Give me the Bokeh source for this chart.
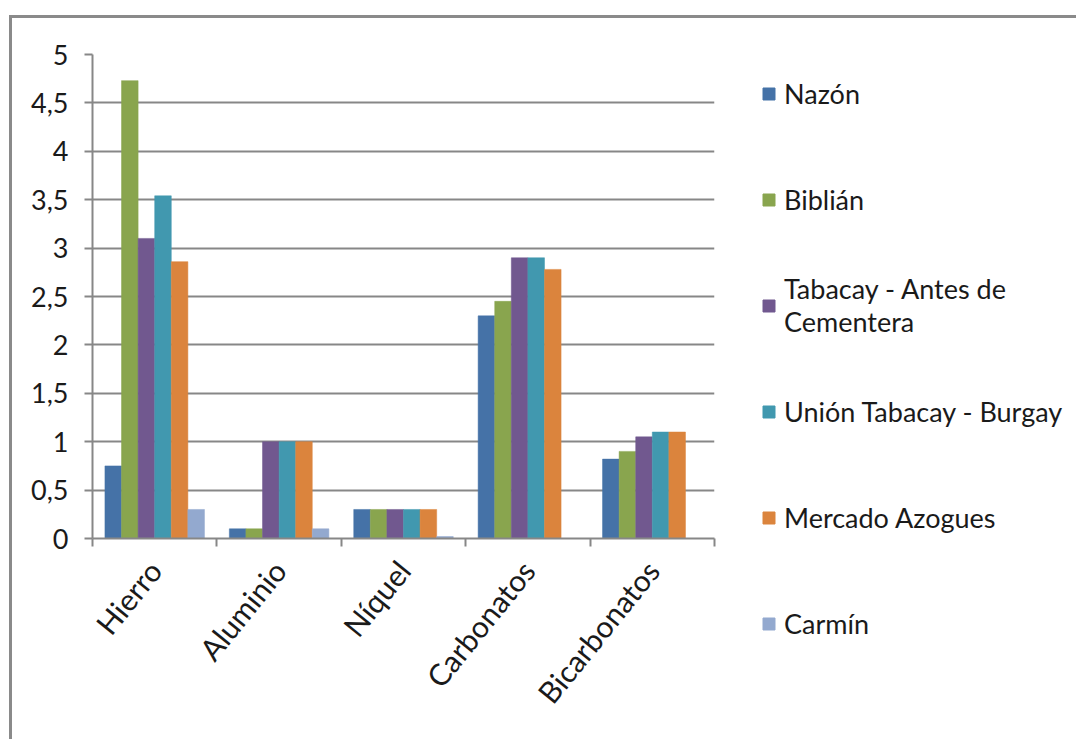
from bokeh.plotting import figure
from bokeh.layouts import row
from bokeh.models import (ColumnDataSource, FixedTicker, Legend, LegendItem,
                          Range1d)
from bokeh.transform import dodge
from bokeh.embed import file_html
from bokeh.resources import INLINE

# Parameters measured at each site
categories = ["Hierro", "Aluminio", "Níquel", "Carbonatos", "Bicarbonatos"]
sites = ["Nazón", "Biblián", "Tabacay - Antes de\nCementera",
         "Unión Tabacay - Burgay", "Mercado Azogues", "Carmín"]

nazon = [0.75, 0.10, 0.30, 2.30, 0.82]
biblian = [4.73, 0.10, 0.30, 2.45, 0.90]
tabacay_cementera = [3.10, 1.00, 0.30, 2.90, 1.05]
union_tabacay_burgay = [3.54, 1.00, 0.30, 2.90, 1.10]
mercado_azogues = [2.86, 1.00, 0.30, 2.78, 1.10]
carmin = [0.30, 0.10, 0.02, 0.00, 0.00]

series = [nazon, biblian, tabacay_cementera, union_tabacay_burgay,
          mercado_azogues, carmin]
colors = ["#4572A7", "#89A54E", "#71588F", "#4198AF", "#DB843D", "#93A9CF"]

y_ticks = [0, 0.5, 1, 1.5, 2, 2.5, 3, 3.5, 4, 4.5, 5]
y_labels = ["0", "0,5", "1", "1,5", "2", "2,5", "3", "3,5", "4", "4,5", "5"]

FONT = "Lato"
FONT_SIZE = "27px"
TEXT = "#1a1a1a"
GRAY = "#878787"

data = {"pos": [i + 0.5 for i in range(len(categories))]}
for k, s in enumerate(series):
    data[f"s{k}"] = s
source = ColumnDataSource(data)
bar_w = 1 / 7.5

# ---- bar chart ----
p = figure(width=712, height=721, output_backend="svg", toolbar_location=None,
           x_range=Range1d(0, len(categories)), y_range=Range1d(0, 5),
           min_border_left=80, min_border_right=10, min_border_top=36,
           min_border_bottom=201)
p.background_fill_color = "white"
p.border_fill_color = "white"
p.outline_line_color = None
p.frame_align = False

for k, col in enumerate(colors):
    p.vbar(x=dodge("pos", (k - 2.5) * bar_w, range=p.x_range),
           top=f"s{k}", width=bar_w, source=source,
           fill_color=col, line_color=col, line_width=0.5)

# y axis
p.yaxis.ticker = FixedTicker(ticks=y_ticks)
p.yaxis.major_label_overrides = {t: l for t, l in zip(y_ticks, y_labels)}
p.yaxis.axis_line_color = GRAY
p.yaxis.axis_line_width = 2
p.yaxis.major_tick_line_color = GRAY
p.yaxis.major_tick_line_width = 2
p.yaxis.major_tick_in = 0
p.yaxis.major_tick_out = 8
p.yaxis.minor_tick_line_color = None
p.yaxis.major_label_standoff = 16
p.yaxis.major_label_text_font = FONT
p.yaxis.major_label_text_font_size = FONT_SIZE
p.yaxis.major_label_text_color = TEXT

# x axis: labels centred on categories, ticks on category boundaries
centers = [i + 0.5 for i in range(len(categories))]
bounds = list(range(len(categories) + 1))
p.xaxis.ticker = FixedTicker(ticks=centers, minor_ticks=bounds)
p.xaxis.major_label_overrides = {c: n for c, n in zip(centers, categories)}
p.xaxis.major_label_orientation = 0.89
p.xaxis.axis_line_color = GRAY
p.xaxis.axis_line_width = 2
p.xaxis.major_tick_line_color = None
p.xaxis.minor_tick_line_color = GRAY
p.xaxis.minor_tick_line_width = 2
p.xaxis.minor_tick_in = 0
p.xaxis.minor_tick_out = 8
p.xaxis.major_label_standoff = 18
p.xaxis.major_label_text_font = FONT
p.xaxis.major_label_text_font_size = "30px"
p.xaxis.major_label_text_color = TEXT

p.xgrid.grid_line_color = None
p.ygrid.ticker = FixedTicker(ticks=y_ticks)
p.ygrid.grid_line_color = GRAY
p.ygrid.grid_line_width = 2

# ---- legend panel (swatch renderers sit outside its visible range) ----
lg = figure(width=352, height=721, output_backend="svg", toolbar_location=None,
            x_range=Range1d(-20, -19), y_range=Range1d(0, 5),
            x_axis_location=None, y_axis_location=None, min_border=0)
lg.outline_line_color = None
lg.xgrid.grid_line_color = None
lg.ygrid.grid_line_color = None
lg.frame_align = False
swatches = [lg.vbar(x=dodge("pos", (k - 2.5) * bar_w), top=f"s{k}",
                    width=bar_w, source=source, fill_color=col, line_color=col)
            for k, col in enumerate(colors)]

legend = Legend(items=[LegendItem(label=s, renderers=[r])
                       for s, r in zip(sites, swatches)],
                location=(37, 82), orientation="vertical",
                margin=0, padding=0, spacing=38, label_height=68,
                glyph_width=15, glyph_height=15, label_standoff=8,
                label_text_font=FONT, label_text_font_size=FONT_SIZE,
                label_text_color=TEXT, border_line_color=None,
                background_fill_alpha=0)
lg.add_layout(legend, "center")

layout = row(p, lg, styles={"margin-left": "9px", "margin-top": "15px",
                            "border-left": "3px solid #8a8a8a",
                            "border-top": "3px solid #8a8a8a"})

open("out.html", "w").write(file_html(layout, INLINE))
